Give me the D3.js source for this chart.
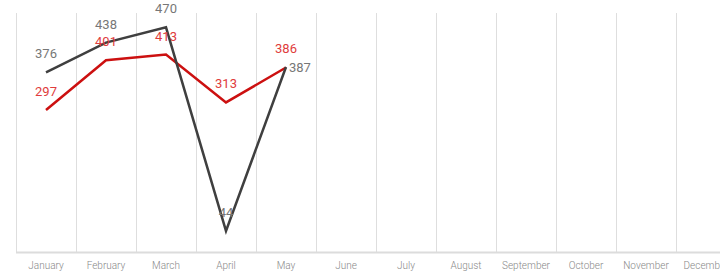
<!DOCTYPE html>
<html>
<head>
<meta charset="utf-8">
<script src="https://cdn.jsdelivr.net/npm/d3@7"></script>
<style>
  html, body { margin: 0; padding: 0; background: #fff; }
  svg { display: block; font-family: Roboto, "Noto Sans", sans-serif; }
</style>
</head>
<body>
<svg width="720" height="272"></svg>
<script>
const months = ["January", "February", "March", "April", "May", "June",
  "July", "August", "September", "October", "November", "December"];
const redValues = [297, 401, 413, 313, 386];
const grayValues = [376, 438, 470, 44, 387];

const svg = d3.select("svg");

const x = d3.scaleBand().domain(months).range([16, 736]);
const y = d3.scaleLinear().domain([0, 500]).range([252, 13]);

// vertical grid lines at band edges
svg.append("g")
  .selectAll("line")
  .data(months)
  .enter()
  .append("line")
  .attr("x1", (d) => x(d) + 0.5)
  .attr("x2", (d) => x(d) + 0.5)
  .attr("y1", y(500))
  .attr("y2", y(0))
  .attr("stroke", "#dedede")
  .attr("stroke-width", 1);

// baseline
svg.append("line")
  .attr("x1", 16).attr("x2", 720)
  .attr("y1", y(0) + 0.5).attr("y2", y(0) + 0.5)
  .attr("stroke", "#dcdcdc")
  .attr("stroke-width", 2);

// month labels
const xAxis = d3.axisBottom(x).tickSize(0).tickPadding(10);
const ax = svg.append("g").attr("transform", `translate(0,${y(0)})`).call(xAxis);
ax.select(".domain").remove();
ax.selectAll("text")
  .attr("fill", "#888")
  .style("font-size", "10px")
  .style("font-weight", "300")
  .style("font-family", "Roboto, sans-serif");

const line = d3.line()
  .x((d, i) => x(months[i]) + x.bandwidth() / 2)
  .y((d) => y(d));

svg.append("path")
  .datum(redValues)
  .attr("d", line)
  .attr("fill", "none")
  .attr("stroke", "#cc1010")
  .attr("stroke-width", 2.5)
  .attr("stroke-linejoin", "miter");

svg.append("path")
  .datum(grayValues)
  .attr("d", line)
  .attr("fill", "none")
  .attr("stroke", "#3f3f3f")
  .attr("stroke-width", 2.5)
  .attr("stroke-linejoin", "miter");

function labels(values, color, other) {
  svg.append("g")
    .selectAll("text")
    .data(values)
    .enter()
    .append("text")
    .each(function (d, i) {
      const cx = x(months[i]) + x.bandwidth() / 2;
      const t = d3.select(this);
      // move aside when the other series sits at nearly the same spot
      if (other && Math.abs(y(other[i]) - y(d)) < 6) {
        t.attr("x", cx + 3).attr("y", y(d) + 5).attr("text-anchor", "start");
      } else {
        t.attr("x", cx).attr("y", y(d) - 14).attr("text-anchor", "middle");
      }
    })
    .attr("fill", color)
    .style("font-size", "13px")
    .text((d) => d);
}

labels(redValues, "#e03c3c", null);
labels(grayValues, "#777", redValues);
</script>
</body>
</html>
